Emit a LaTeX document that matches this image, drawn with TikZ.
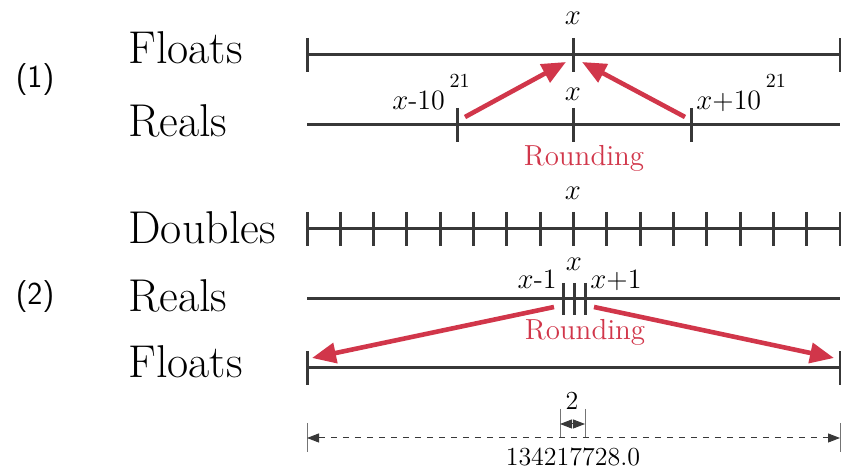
\documentclass[tikz,border=0pt]{standalone}
\usepackage{tikz}
\usetikzlibrary{arrows.meta, positioning}
\definecolor{lnGray}{HTML}{383838}
\definecolor{rdRed}{HTML}{D1364A}

\begin{document}
\begin{tikzpicture}[x=0.5pt, y=-0.5pt,
    axis/.style={draw=lnGray, line width=1.5pt},
    tickmark/.style={draw=lnGray, line width=1.5pt},
    setname/.style={anchor=west, inner sep=0pt, font=\fontsize{23}{27}\selectfont},
    casenum/.style={inner sep=0pt, font=\sffamily\fontsize{16}{19}\selectfont},
    val/.style={inner sep=0pt, font=\fontsize{14}{17}\selectfont},
    rnd/.style={draw=rdRed, line width=2.3pt, -{Triangle[length=12pt,width=10pt]}},
    rndtext/.style={inner sep=0pt, text=rdRed, font=\fontsize{14.5}{17}\selectfont},
    dimline/.style={draw=lnGray, line width=0.5pt, {Triangle[length=6pt,width=4.5pt]}-{Triangle[length=6pt,width=4.5pt]}},
    extline/.style={draw=lnGray!70, line width=0.4pt}]
  \useasboundingbox (0,0) rectangle (841,469);

  % (1) floats and reals
  \node[casenum] (c1) at (35,80) {(1)};
  \node[setname] (fl1) at (128,48) {Floats};
  \node[setname] (re1) at (128,121) {Reals};
  \draw[axis] (307,55) -- (840,55);
  \draw[axis] (307,125) -- (840,125);
  \foreach \px in {307,573,840} \draw[tickmark] (\px,38) -- (\px,72);
  \foreach \px in {457,573,691} \draw[tickmark] (\px,108) -- (\px,142);
  \node[val] (fx1) at (573,18) {$x$};
  \node[val] (rx1) at (573,94) {$x$};
  \node[val, anchor=base east] (lo1) at (470,110) {$x$-10\,\raisebox{0.8em}{\fontsize{10}{12}\selectfont 21}};
  \node[val, anchor=base west] (hi1) at (696,110) {$x$+10\,\raisebox{0.8em}{\fontsize{10}{12}\selectfont 21}};
  \coordinate (lo1s) at (465,117);
  \coordinate (hi1s) at (685,117);
  \coordinate (fx1l) at (566,62);
  \coordinate (fx1r) at (582,62);
  \draw[rnd] (lo1s) -- (fx1l);
  \draw[rnd] (hi1s) -- (fx1r);
  \node[rndtext] (rd1) at (584,158) {Rounding};

  % (2) doubles, reals and floats
  \node[casenum] (c2) at (35,297) {(2)};
  \node[setname] (db2) at (128,228) {Doubles};
  \node[setname] (re2) at (128,296) {Reals};
  \node[setname] (fl2) at (128,362) {Floats};
  \draw[axis] (307,229) -- (840,229);
  \foreach \i in {0,...,16} \draw[tickmark] ({307+\i*533/16},212) -- ({307+\i*533/16},246);
  \node[val] (dx2) at (573,193) {$x$};
  \draw[axis] (307,299) -- (840,299);
  \foreach \px in {563,574,585} \draw[tickmark] (\px,283) -- (\px,315);
  \node[val] (rx2) at (574,264) {$x$};
  \node[val, anchor=base east] (lo2) at (557,289) {$x$-1};
  \node[val, anchor=base west] (hi2) at (590,289) {$x$+1};
  \draw[axis] (307,368) -- (840,368);
  \foreach \px in {307,840} \draw[tickmark] (\px,351) -- (\px,385);
  \coordinate (lo2s) at (554,307);
  \coordinate (hi2s) at (594,307);
  \coordinate (fl2l) at (312,358);
  \coordinate (fl2r) at (834,358);
  \draw[rnd] (lo2s) -- (fl2l);
  \draw[rnd] (hi2s) -- (fl2r);
  \node[rndtext] (rd2) at (585,332) {Rounding};

  % spacing of the floats
  \coordinate (dl) at (307,438);
  \coordinate (dr) at (840,438);
  \draw[extline] (307,423) -- (307,452);
  \draw[extline] (840,423) -- (840,452);
  \draw[dimline, dashed] (dl) -- (dr);
  \node[val, font=\fontsize{13}{15}\selectfont] (wide) at (573,457) {134217728.0};
  \coordinate (sl) at (560,424);
  \coordinate (sr) at (585,424);
  \draw[extline] (560,409) -- (560,437);
  \draw[extline] (585,409) -- (585,437);
  \draw[dimline] (sl) -- (sr);
  \node[val, font=\fontsize{13}{15}\selectfont] (gap) at (572,401) {2};
\end{tikzpicture}
\end{document}
